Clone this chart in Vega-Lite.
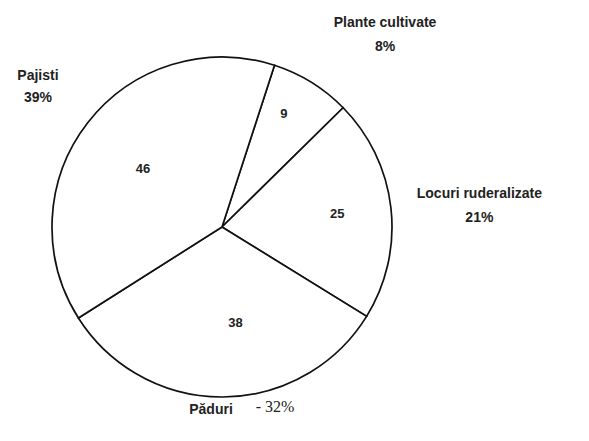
{
  "$schema": "https://vega.github.io/schema/vega-lite/v6.json",
  "width": 444,
  "height": 454,
  "autosize": {"type": "none"},
  "padding": {"left": 0, "top": 0, "right": 145, "bottom": 0},
  "background": "white",
  "config": {"view": {"stroke": null}},
  "data": {
    "values": [
      {"cat": "Plante cultivate", "value": 9, "label": "Plante cultivate\n8%"},
      {"cat": "Locuri ruderalizate", "value": 25, "label": "Locuri ruderalizate\n21%"},
      {"cat": "Păduri", "value": 38, "label": "Păduri"},
      {"cat": "Pajisti", "value": 46, "label": "Pajisti\n39%"}
    ]
  },
  "encoding": {
    "theta": {"field": "value", "type": "quantitative", "stack": true, "scale": {"range": [0.314, 6.597]}},
    "order": {"field": "value", "type": "quantitative", "sort": "ascending"}
  },
  "layer": [
    {
      "mark": {"type": "arc", "outerRadius": 170, "fill": "white", "stroke": "#111", "strokeWidth": 1.7}
    },
    {
      "mark": {"type": "text", "radius": 129, "dx": -6, "dy": -3, "font": "Liberation Sans", "fontWeight": "bold", "fontSize": 13, "fill": "#222"},
      "encoding": {"text": {"condition": {"test": "datum.cat == 'Plante cultivate'", "field": "value"}, "value": ""}}
    },
    {
      "mark": {"type": "text", "radius": 116, "font": "Liberation Sans", "fontWeight": "bold", "fontSize": 13, "fill": "#222"},
      "encoding": {"text": {"condition": {"test": "datum.cat == 'Locuri ruderalizate'", "field": "value"}, "value": ""}}
    },
    {
      "mark": {"type": "text", "radius": 96, "dx": 13, "font": "Liberation Sans", "fontWeight": "bold", "fontSize": 13, "fill": "#222"},
      "encoding": {"text": {"condition": {"test": "datum.cat == 'Păduri'", "field": "value"}, "value": ""}}
    },
    {
      "mark": {"type": "text", "radius": 100, "dy": 3, "font": "Liberation Sans", "fontWeight": "bold", "fontSize": 13, "fill": "#222"},
      "encoding": {"text": {"condition": {"test": "datum.cat == 'Pajisti'", "field": "value"}, "value": ""}}
    },
    {
      "mark": {"type": "text", "radius": 233, "dy": -8, "lineBreak": "\n", "font": "Liberation Sans", "fontWeight": "bold", "fontSize": 14, "fill": "#222", "lineHeight": 22},
      "encoding": {"text": {"condition": {"test": "datum.cat == 'Pajisti'", "field": "label"}, "value": ""}}
    },
    {
      "mark": {"type": "text", "radius": 253, "dx": 30, "dy": 11, "lineBreak": "\n", "font": "Liberation Sans", "fontWeight": "bold", "fontSize": 14, "fill": "#222", "lineHeight": 24},
      "encoding": {"text": {"condition": {"test": "datum.cat == 'Plante cultivate'", "field": "label"}, "value": ""}}
    },
    {
      "mark": {"type": "text", "radius": 259, "dy": -4, "lineBreak": "\n", "font": "Liberation Sans", "fontWeight": "bold", "fontSize": 14, "fill": "#222", "lineHeight": 24},
      "encoding": {"text": {"condition": {"test": "datum.cat == 'Locuri ruderalizate'", "field": "label"}, "value": ""}}
    },
    {
      "mark": {"type": "text", "radius": 183, "dx": -12, "font": "Liberation Sans", "fontWeight": "bold", "fontSize": 14, "fill": "#222"},
      "encoding": {"text": {"condition": {"test": "datum.cat == 'Păduri'", "field": "label"}, "value": ""}}
    },
    {
      "mark": {"type": "text", "radius": 183, "dx": 52, "dy": -3, "font": "Liberation Serif", "fontSize": 16, "fill": "#222"},
      "encoding": {"text": {"condition": {"test": "datum.cat == 'Păduri'", "value": "- 32%"}, "value": ""}}
    }
  ]
}
